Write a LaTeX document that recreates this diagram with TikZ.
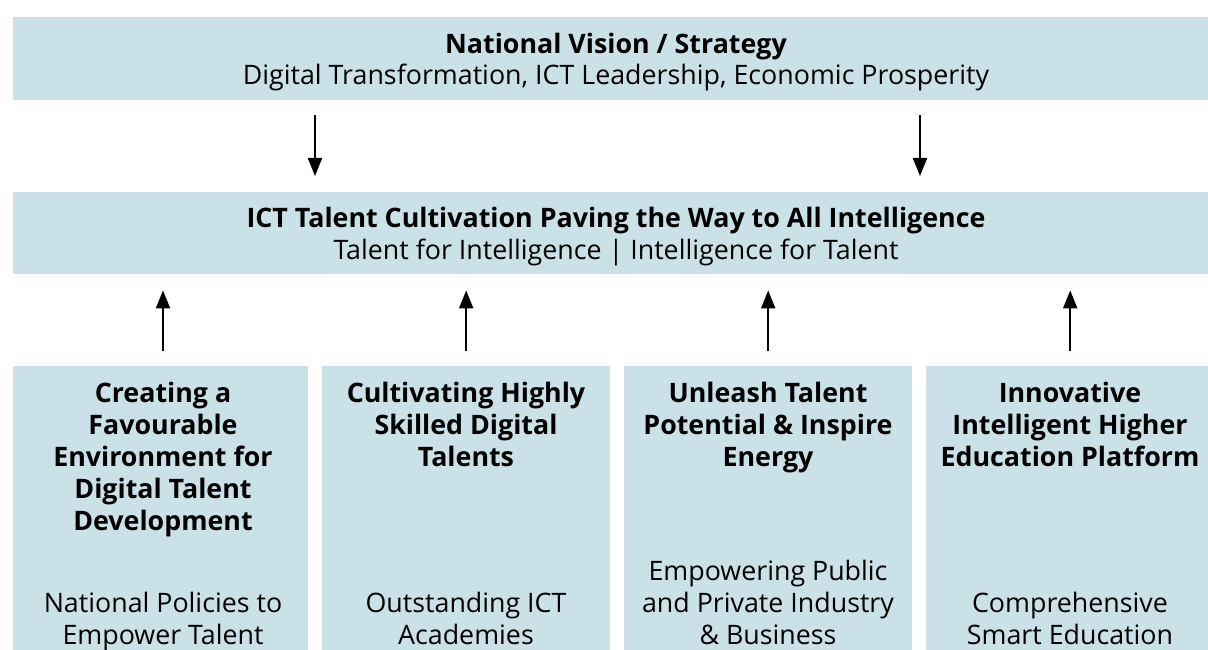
\documentclass[tikz,border=0pt]{standalone}
\usepackage{fontspec}
\setmainfont{Open Sans}
\usetikzlibrary{arrows.meta}
\definecolor{panelblue}{RGB}{203,225,232}
\begin{document}
\begin{tikzpicture}[x=1pt,y=-1pt,
  panelbox/.style={fill=panelblue, draw=none, inner sep=0pt, anchor=north west},
  headtext/.style={font=\fontsize{26.8}{32}\selectfont\bfseries, align=center, inner sep=0pt, anchor=base},
  subtext/.style={font=\fontsize{26.8}{32}\selectfont, align=center, inner sep=0pt, anchor=base},
  flow/.style={line width=2pt, -{Triangle[width=14pt,length=18pt]}, shorten <=15pt, shorten >=16pt}
]
\clip (0,0) rectangle (1208,650);
\fill[white] (0,0) rectangle (1208,650);

% panels
\node[panelbox, minimum width=1201pt, minimum height=83pt] (vision) at (13,17) {};
\node[panelbox, minimum width=1201pt, minimum height=82pt] (talent) at (13,192) {};
\node[panelbox, minimum width=295pt, minimum height=290pt] (p1) at (13,366) {};
\node[panelbox, minimum width=288pt, minimum height=290pt] (p2) at (322,366) {};
\node[panelbox, minimum width=288pt, minimum height=290pt] (p3) at (624,366) {};
\node[panelbox, minimum width=288pt, minimum height=290pt] (p4) at (926,366) {};

% headings of the two wide panels (anchor base = last line's baseline)
\node[headtext] (visionT) at (616,54) {National Vision / Strategy};
\node[subtext] (visionS) at (616,85) {Digital Transformation, ICT Leadership, Economic Prosperity};
\node[headtext] (talentT) at (616,227) {ICT Talent Cultivation Paving the Way to All Intelligence};
\node[subtext] (talentS) at (616,259) {Talent for Intelligence | Intelligence for Talent};

% pillar headings
\node[headtext] (h1) at (163,530) {Creating a\\Favourable\\Environment for\\Digital Talent\\Development};
\node[headtext] (h2) at (466,466) {Cultivating Highly\\Skilled Digital\\Talents};
\node[headtext] (h3) at (768,466) {Unleash Talent\\Potential \& Inspire\\Energy};
\node[headtext] (h4) at (1070,466) {Innovative\\Intelligent Higher\\Education Platform};

% pillar footers
\node[subtext] (f1) at (163,644) {National Policies to\\Empower Talent};
\node[subtext] (f2) at (466,644) {Outstanding ICT\\Academies};
\node[subtext] (f3) at (768,644) {Empowering Public\\and Private Industry\\\& Business};
\node[subtext] (f4) at (1070,644) {Comprehensive\\Smart Education};

% connectors
\coordinate (d1) at (315,0);
\coordinate (d2) at (920,0);
\draw[flow] (vision.south -| d1) -- (talent.north -| d1);
\draw[flow] (vision.south -| d2) -- (talent.north -| d2);
\draw[flow] (p1.north -| h1) -- (talent.south -| h1);
\draw[flow] (p2.north) -- (talent.south -| p2.north);
\draw[flow] (p3.north) -- (talent.south -| p3.north);
\draw[flow] (p4.north) -- (talent.south -| p4.north);
\end{tikzpicture}
\end{document}
